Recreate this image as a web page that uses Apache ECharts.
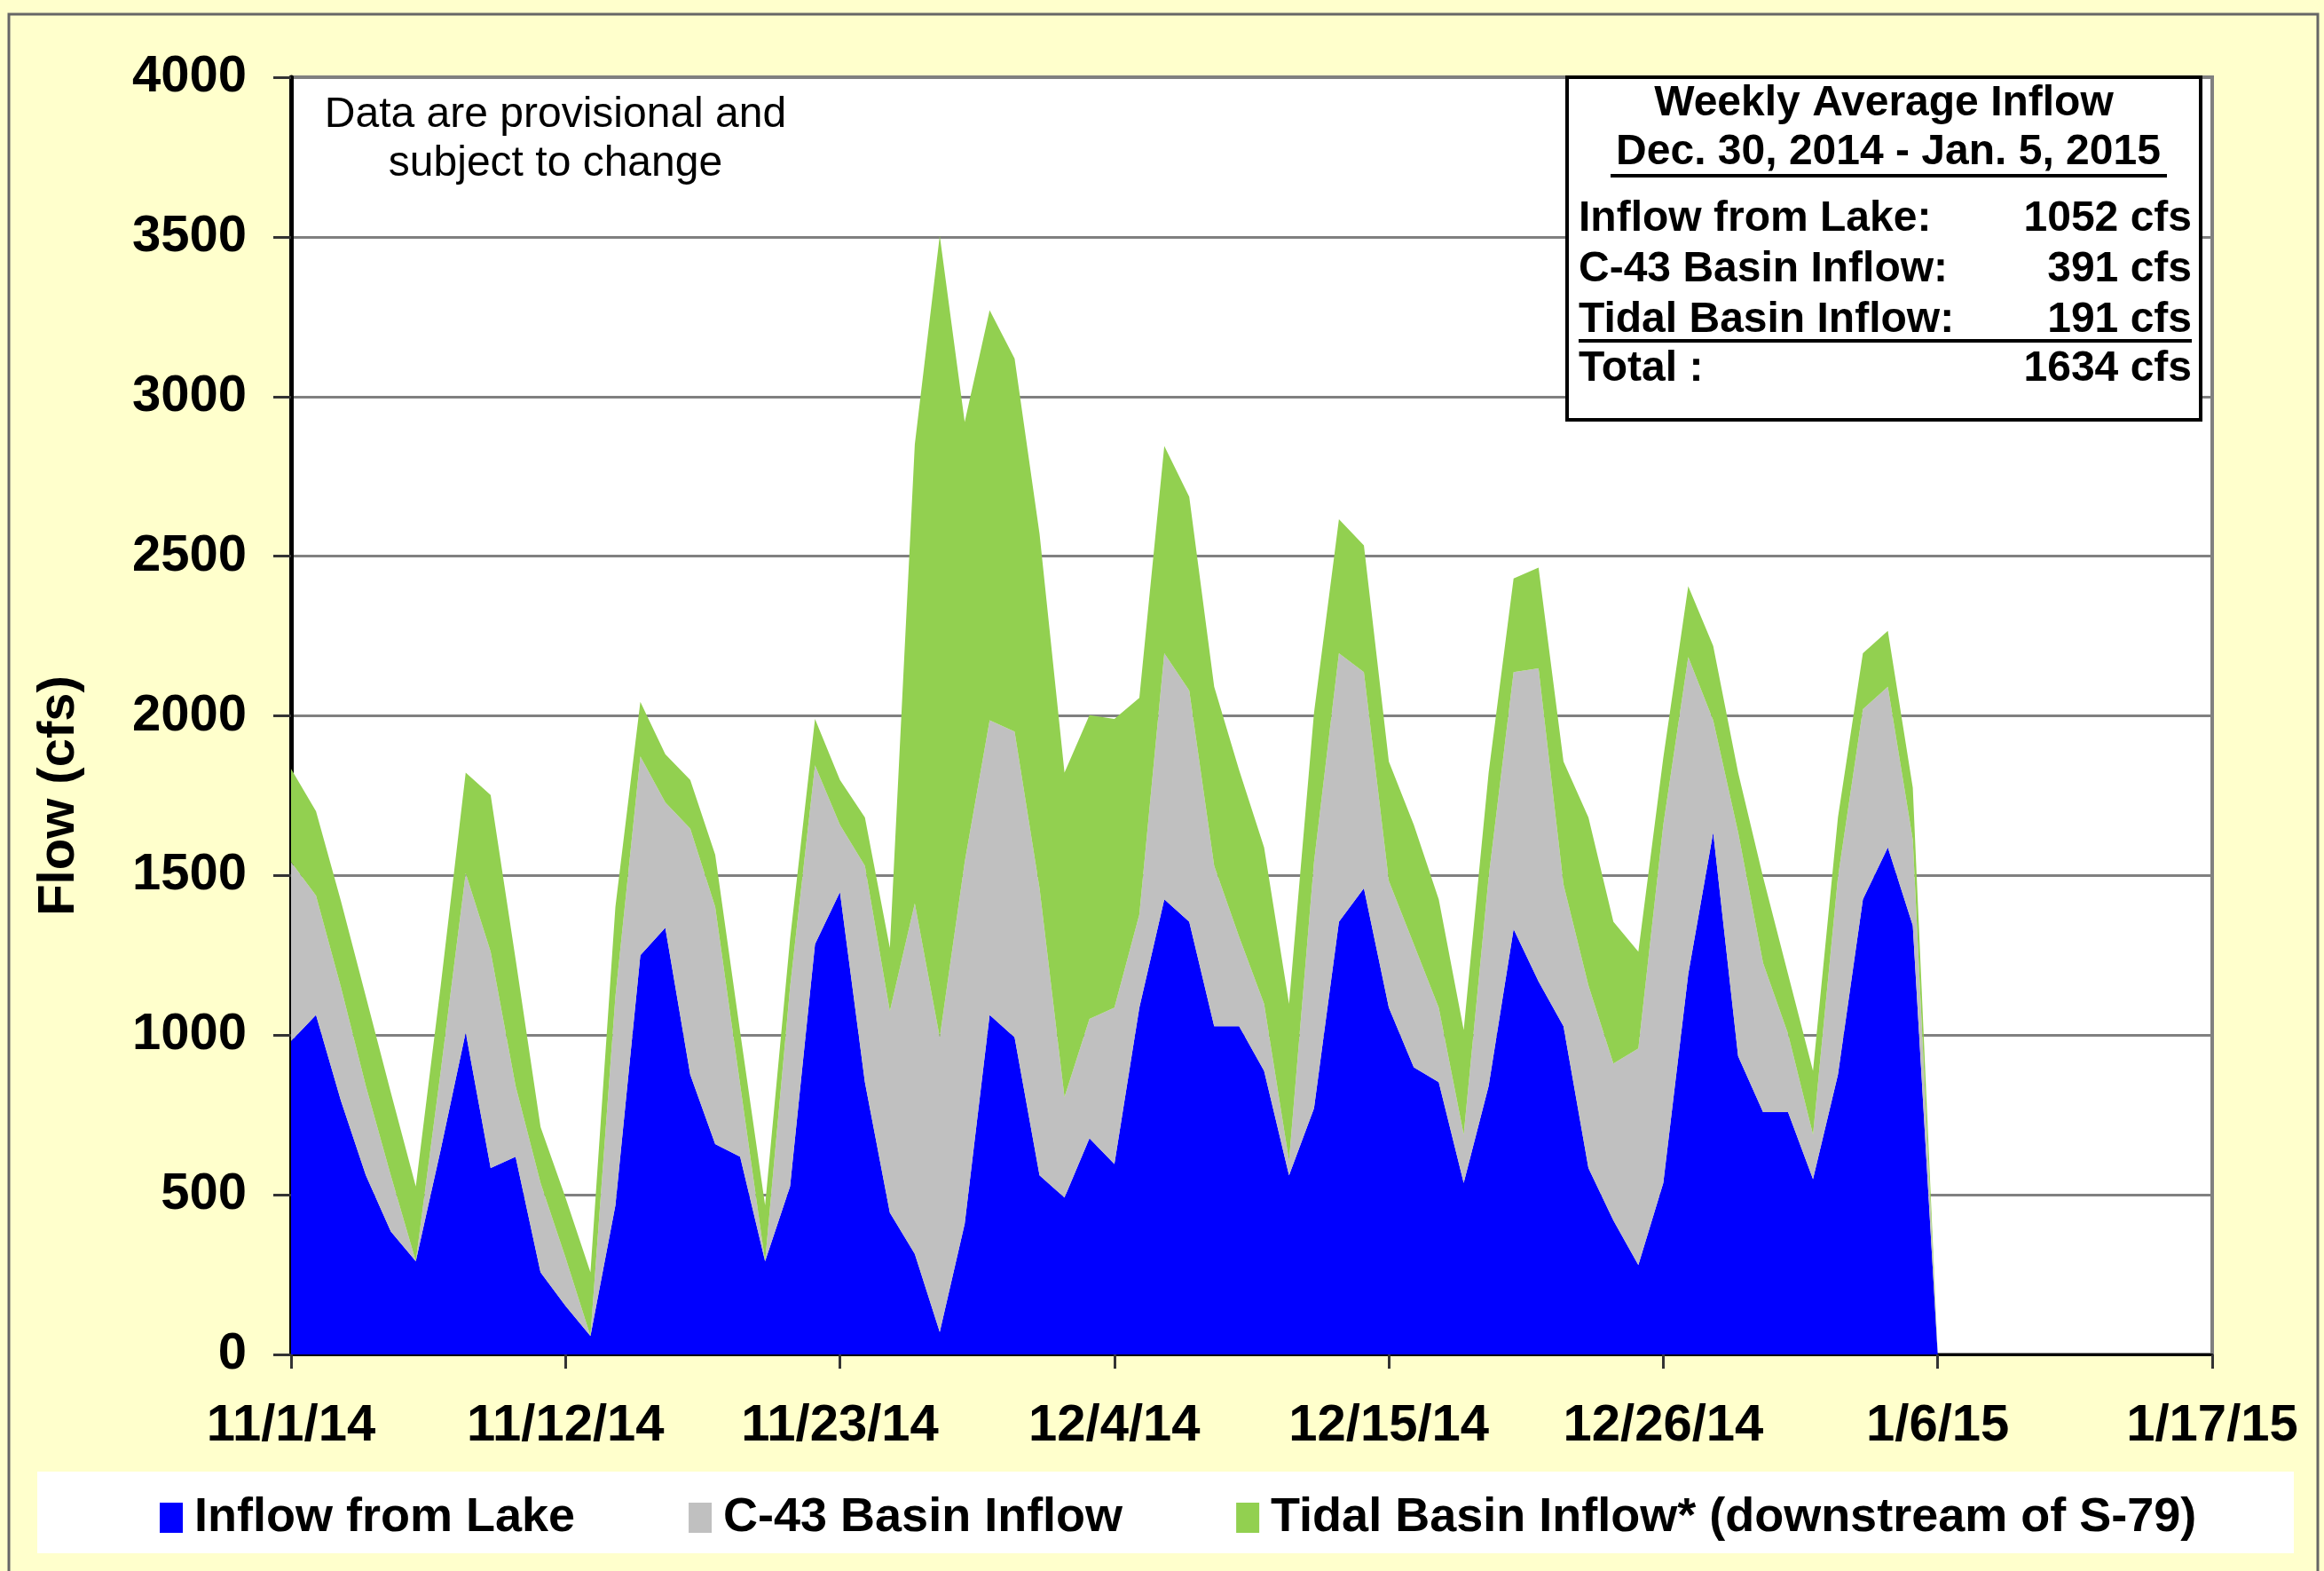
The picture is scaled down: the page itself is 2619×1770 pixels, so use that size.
<!DOCTYPE html>
<html>
<head>
    <meta charset="utf-8">
    <title>Flow</title>
    <script src="https://cdn.jsdelivr.net/npm/echarts@6/dist/echarts.min.js"></script>
    <style>
        body { margin: 0; }
    </style>
</head>
<body>
    <div id="main" style="width:2619px; height:1770px;"></div>
    <script>
        // daily values, 11/1/14 .. 1/6/15 (cfs)
        var lakeInflow = [
            981, 1063, 794, 561, 385, 292, 642, 1009, 584, 619,
            257, 152, 58, 467, 1250, 1336, 876, 659, 619, 292,
            526, 1285, 1448, 853, 444, 315, 70, 409, 1063, 993,
            561, 491, 677, 596, 1086, 1425, 1355, 1028, 1028, 888,
            561, 771, 1355, 1460, 1086, 899, 853, 537, 841, 1332,
            1168, 1028, 584, 420, 280, 537, 1191, 1635, 934, 759,
            759, 549, 876, 1425, 1588, 1343, 0
        ]
        var c43Inflow = [
            561, 374, 356, 279, 175, 0, 246, 498, 677, 222,
            280, 152, 0, 654, 623, 393, 771, 743, 226, 0,
            624, 560, 211, 677, 631, 1098, 923, 1133, 923, 958,
            899, 315, 374, 490, 292, 771, 724, 502, 280, 210,
            46, 771, 841, 677, 397, 386, 233, 152, 654, 805,
            981, 444, 572, 491, 678, 1122, 993, 351, 701, 467,
            245, 140, 619, 596, 503, 269, 0
        ]
        var tidalInflow = [
            292, 264, 270, 280, 260, 234, 268, 315, 491, 397,
            175, 187, 199, 281, 171, 151, 152, 163, 165, 175,
            150, 145, 140, 152, 198, 1437, 2511, 1378, 1284, 1168,
            1110, 1016, 951, 904, 678, 649, 607, 561, 522, 490,
            491, 467, 420, 397, 374, 374, 339, 327, 327, 293,
            315, 385, 526, 444, 303, 210, 222, 233, 187, 269,
            187, 199, 187, 175, 175, 163, 0
        ]
        var seriesNames = ['Inflow from Lake', 'C-43 Basin Inflow', 'Tidal Basin Inflow* (downstream of S-79)']
        var seriesColors = ['#0000FF', '#C0C0C0', '#92D050']

        // weekly summary box
        var summaryTitle = ['Weekly Average Inflow', 'Dec. 30, 2014 - Jan. 5, 2015']
        var summaryLabels = ['Inflow from Lake:', 'C-43 Basin Inflow:', 'Tidal Basin Inflow:', 'Total :']
        var summaryValues = ['1052 cfs', '391 cfs', '191 cfs', '1634 cfs']

        // x axis: one category per day from 11/1/14 to 1/17/15
        var startDate = new Date(2014, 10, 1)
        var dayCount = 78
        var dates = []
        for (var i = 0; i < dayCount; i++) {
            var d = new Date(startDate.getTime())
            d.setDate(startDate.getDate() + i)
            dates.push((d.getMonth() + 1) + '/' + d.getDate() + '/' + String(d.getFullYear()).slice(2))
        }

        var font = '"Liberation Sans", Arial, sans-serif'
        var chart = echarts.init(document.querySelector('#main'))

        var makeSeries = (k, data) => {
            return {
                name: seriesNames[k],
                type: 'line',
                stack: 'flow',
                data: data,
                symbol: 'none',
                silent: true,
                lineStyle: {width: 0},
                areaStyle: {color: seriesColors[k], opacity: 1},
                itemStyle: {color: seriesColors[k]},
                z: 2
            }
        }

        var rowY = [247, 304, 361, 416]
        var boxGraphics = [
            {type: 'rect', shape: {x: 1766, y: 87, width: 714, height: 386}, style: {fill: '#fff', stroke: '#000', lineWidth: 4}, z: 100},
            {type: 'text', x: 2123, y: 117, style: {text: summaryTitle[0], font: 'bold 48px ' + font, fill: '#000', align: 'center', verticalAlign: 'middle'}, z: 101},
            {type: 'text', x: 2128, y: 172, style: {text: summaryTitle[1], font: 'bold 48px ' + font, fill: '#000', align: 'center', verticalAlign: 'middle'}, z: 101},
            {type: 'line', shape: {x1: 1815, y1: 198, x2: 2442, y2: 198}, style: {stroke: '#000', lineWidth: 4}, z: 101},
            {type: 'line', shape: {x1: 1779, y1: 384, x2: 2470, y2: 384}, style: {stroke: '#000', lineWidth: 4}, z: 101}
        ]
        for (var r = 0; r < summaryLabels.length; r++) {
            boxGraphics.push({type: 'text', x: 1779, y: rowY[r], style: {text: summaryLabels[r], font: 'bold 48px ' + font, fill: '#000', align: 'left', verticalAlign: 'middle'}, z: 101})
            boxGraphics.push({type: 'text', x: 2470, y: rowY[r], style: {text: summaryValues[r], font: 'bold 48px ' + font, fill: '#000', align: 'right', verticalAlign: 'middle'}, z: 101})
        }

        var option = {
            backgroundColor: '#FFFFCC',
            animation: false,
            textStyle: {fontFamily: font},
            grid: {
                left: 328, right: 126, top: 87, bottom: 244,
                show: true,
                backgroundColor: '#fff',
                borderColor: '#7f7f7f',
                borderWidth: 4
            },
            legend: {
                data: seriesNames,
                left: 175,
                top: 1678,
                icon: 'rect',
                itemWidth: 26,
                itemHeight: 34,
                itemGap: 128,
                textStyle: {fontSize: 54, fontWeight: 'bold', color: '#000', fontFamily: font, padding: [0, 0, 0, 8]}
            },
            xAxis: {
                type: 'category',
                data: dates,
                boundaryGap: false,
                axisLine: {lineStyle: {color: '#000', width: 3}},
                axisTick: {interval: 10, length: 16, lineStyle: {color: '#333', width: 3}},
                axisLabel: {interval: 10, margin: 52, fontSize: 58, fontWeight: 'bold', color: '#000', fontFamily: font},
                splitLine: {show: false}
            },
            yAxis: {
                type: 'value',
                min: 0,
                max: 4000,
                interval: 500,
                name: 'Flow (cfs)',
                nameLocation: 'middle',
                nameRotate: 90,
                nameGap: 232,
                nameTextStyle: {fontSize: 58, fontWeight: 'bold', color: '#000', fontFamily: font, padding: [0, 180, 0, 0]},
                axisLine: {show: true, lineStyle: {color: '#000', width: 5}},
                axisTick: {show: true, length: 20, lineStyle: {color: '#333', width: 3}},
                axisLabel: {margin: 50, fontSize: 58, fontWeight: 'bold', color: '#000', fontFamily: font, formatter: (v) => String(v)},
                splitLine: {lineStyle: {color: '#808080', width: 3}}
            },
            series: [
                makeSeries(0, lakeInflow),
                makeSeries(1, c43Inflow),
                makeSeries(2, tidalInflow)
            ],
            graphic: [
                {type: 'rect', shape: {x: 10, y: 16, width: 2602, height: 1800}, style: {fill: 'none', stroke: '#666', lineWidth: 3}, z: 0, silent: true},
                {type: 'rect', shape: {x: 42, y: 1658, width: 2543, height: 92}, style: {fill: '#fff'}, z: 0, silent: true},
                {type: 'text', x: 626, y: 130, style: {text: 'Data are provisional and', font: '48px ' + font, fill: '#000', align: 'center', verticalAlign: 'middle'}, z: 50},
                {type: 'text', x: 626, y: 185, style: {text: 'subject to change', font: '48px ' + font, fill: '#000', align: 'center', verticalAlign: 'middle'}, z: 50}
            ].concat(boxGraphics)
        }

        chart.setOption(option)
    </script>
</body>
</html>
